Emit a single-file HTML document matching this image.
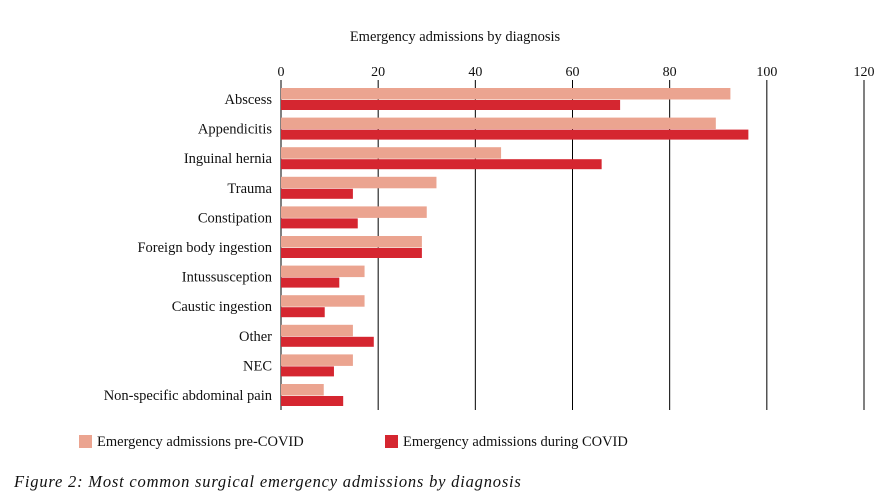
<!DOCTYPE html>
<html><head><meta charset="utf-8"><style>
body{margin:0;background:#fff;}
svg text{font-family:"Liberation Serif",serif;fill:#111;}
</style></head><body>
<svg width="880" height="497" xmlns="http://www.w3.org/2000/svg">
<text x="455" y="41" font-size="14.5" text-anchor="middle">Emergency admissions by diagnosis</text>
<g id="grid"></g><g id="bars"></g><g id="labels"></g>
<g>
<rect x="79" y="435" width="13" height="13" fill="#eba490"/>
<text x="97" y="446" font-size="14.5">Emergency admissions pre-COVID</text>
<rect x="385" y="435" width="13" height="13" fill="#d52630"/>
<text x="403" y="446" font-size="14.5">Emergency admissions during COVID</text>
</g>
<text x="14" y="487" font-size="16.5" letter-spacing="0.8" font-style="italic">Figure 2: Most common surgical emergency admissions by diagnosis</text>
</svg>
<script>
const categories=["Abscess","Appendicitis","Inguinal hernia","Trauma","Constipation","Foreign body ingestion","Intussusception","Caustic ingestion","Other","NEC","Non-specific abdominal pain"];
const preCovid=[92.5,89.5,45.3,32,30,29,17.2,17.2,14.8,14.8,8.8];
const duringCovid=[69.8,96.2,66,14.8,15.8,29,12,9,19.1,10.9,12.8];
const ticks=[0,20,40,60,80,100,120];
const ns="http://www.w3.org/2000/svg";
const x0=281,x1=864,xmax=120;
const X=v=>x0+(x1-x0)*v/xmax;
const rowTop=88,rowH=29.6;
function mk(t,a,p){const e=document.createElementNS(ns,t);for(const k in a)e.setAttribute(k,a[k]);p.appendChild(e);return e;}
const g=document.getElementById('grid'),b=document.getElementById('bars'),l=document.getElementById('labels');
ticks.forEach(t=>{
 const ln=mk('line',{x1:X(t),x2:X(t),y1:80,y2:410,stroke:'#000','stroke-width':1},g);
 
 
 const tx=mk('text',{x:X(t),y:76,'font-size':14,'text-anchor':'middle'},g);tx.textContent=t;
 
 
});
categories.forEach((c,i)=>{
 const y=rowTop+i*rowH;
 const r1=mk('rect',{x:x0,y:y,width:X(preCovid[i])-x0,height:11.5,fill:'#eba490'},b);
 
 
 const r2=mk('rect',{x:x0,y:y+12,width:X(duringCovid[i])-x0,height:10,fill:'#d52630'},b);
 
 
 const tx=mk('text',{x:272,y:y+16,'font-size':14.5,'text-anchor':'end'},l);tx.textContent=c;
 
 
});
</script>
</body></html>
